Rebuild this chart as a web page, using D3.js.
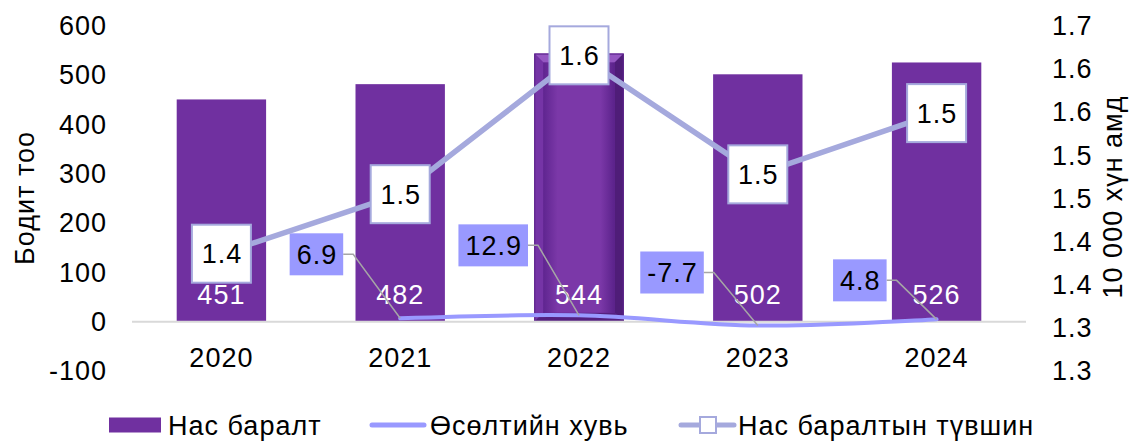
<!DOCTYPE html>
<html>
<head>
<meta charset="utf-8">
<script src="https://cdn.jsdelivr.net/npm/d3@7/dist/d3.min.js"></script>
<style>
  html, body { margin: 0; padding: 0; background: #ffffff; }
  svg { display: block; font-family: "Liberation Sans", Arial, sans-serif; }
  svg text { letter-spacing: 1px; }
</style>
</head>
<body>
<svg id="chart" width="1137" height="441"></svg>
<script>
// Years shown on the category axis
const years = ["2020", "2021", "2022", "2023", "2024"];
// Number of deaths (bars, left axis)
const deaths = [451, 482, 544, 502, 526];
// Year-on-year change, % (left axis); no value for the first year
const growth = [null, 6.9, 12.9, -7.7, 4.8];
// Death rate per 10 000 population (right axis)
const rate = [1.436, 1.505, 1.666, 1.528, 1.599];
// Axis tick values
const leftTicks = [-100, 0, 100, 200, 300, 400, 500, 600];
const rightTicks = [1.3, 1.35, 1.4, 1.45, 1.5, 1.55, 1.6, 1.65, 1.7];
// Series names and axis titles
const seriesNames = ["Нас баралт", "Өсөлтийн хувь", "Нас баралтын түвшин"];
const leftTitle = "Бодит тоо";
const rightTitle = "10 000 хүн амд";
// The year whose bar is drawn with a bevelled finish
const highlightYear = "2022";

// Layout of the growth-rate callouts: right edge / vertical centre of each box relative to its point
const growthCallout = [null, [-57, -64], [-51, -70], [-54, -53], [-50, -39]];

const FONT = 27;
const barColor = "#7030a0";
const growthColor = "#9999ff";
const rateColor = "#a5a9dd";

const svg = d3.select("#chart");

const x = d3.scaleBand().domain(years).range([132, 1026]).paddingInner(0.5).paddingOuter(0.25);
const yL = d3.scaleLinear().domain([-100, 600]).range([371, 26]);
const yR = d3.scaleLinear().domain([1.3, 1.7]).range([371, 26]);
const cx = d => x(d) + x.bandwidth() / 2;

// One decimal, truncated
const fmt1 = v => (Math.floor(v * 10 + 1e-9) / 10).toFixed(1);

// Left axis
const gL = svg.append("g").attr("transform", "translate(107,0)")
  .call(d3.axisLeft(yL).tickValues(leftTicks).tickSize(0).tickPadding(0).tickFormat(d => String(d)));
gL.select(".domain").remove();
gL.selectAll("text").attr("font-size", FONT).attr("fill", "#000").attr("font-family", "Liberation Sans, Arial, sans-serif");

// Right axis
const gR = svg.append("g").attr("transform", "translate(1052,0)")
  .call(d3.axisRight(yR).tickValues(rightTicks).tickSize(0).tickPadding(0).tickFormat(fmt1));
gR.select(".domain").remove();
gR.selectAll("text").attr("font-size", FONT).attr("fill", "#000").attr("font-family", "Liberation Sans, Arial, sans-serif");

// Category axis labels
const gX = svg.append("g").attr("transform", "translate(0,348)")
  .call(d3.axisBottom(x).tickSize(0).tickPadding(0));
gX.select(".domain").remove();
gX.selectAll("text").attr("font-size", FONT).attr("fill", "#000").attr("dy", "0.71em").attr("font-family", "Liberation Sans, Arial, sans-serif");

// Axis titles
svg.append("text").attr("transform", `translate(34,198) rotate(-90)`)
  .attr("text-anchor", "middle").attr("font-size", FONT).text(leftTitle);
svg.append("text").attr("transform", `translate(1122,197) rotate(-90)`)
  .attr("text-anchor", "middle").attr("font-size", FONT).text(rightTitle);

// Bars
const bars = svg.append("g");
years.forEach((yr, i) => {
  const x0 = x(yr), w = x.bandwidth();
  const y0 = yL(deaths[i]), y1 = yL(0);
  if (yr !== highlightYear) {
    bars.append("rect").attr("x", x0).attr("y", y0).attr("width", w).attr("height", y1 - y0).attr("fill", barColor);
  } else {
    const b = 9;
    const g = bars.append("g");
    g.append("rect").attr("x", x0).attr("y", y0).attr("width", w).attr("height", y1 - y0).attr("fill", "#6a2a99");
    const x1 = x0 + w;
    const poly = (pts, fill) => g.append("polygon").attr("points", pts.map(p => p.join(",")).join(" ")).attr("fill", fill);
    poly([[x0, y0], [x1, y0], [x1 - b, y0 + b], [x0 + b, y0 + b]], "#9557c2");
    poly([[x0, y0], [x0 + b, y0 + b], [x0 + b, y1 - b], [x0, y1]], "#7534a6");
    poly([[x1, y0], [x1, y1], [x1 - b, y1 - b], [x1 - b, y0 + b]], "#4f1d78");
    poly([[x0, y1], [x0 + b, y1 - b], [x1 - b, y1 - b], [x1, y1]], "#55207f");
    const grad = svg.append("defs").append("linearGradient").attr("id", "bevelFace");
    grad.append("stop").attr("offset", "0%").attr("stop-color", "#5f2590");
    grad.append("stop").attr("offset", "20%").attr("stop-color", "#7b38a8");
    grad.append("stop").attr("offset", "80%").attr("stop-color", "#7b38a8");
    grad.append("stop").attr("offset", "100%").attr("stop-color", "#5a228a");
    g.append("rect").attr("x", x0 + b).attr("y", y0 + b).attr("width", w - 2 * b).attr("height", y1 - y0 - 2 * b)
      .attr("fill", "url(#bevelFace)");
    g.append("rect").attr("x", x0 + 0.5).attr("y", y0 + 0.5).attr("width", w - 1).attr("height", y1 - y0 - 1)
      .attr("fill", "none").attr("stroke", "#5a2389").attr("stroke-width", 1);
  }
});

// Zero line
svg.append("line").attr("x1", 132).attr("x2", 1026).attr("y1", yL(0)).attr("y2", yL(0))
  .attr("stroke", "#d9d9d9").attr("stroke-width", 2);

// Bar value labels
svg.append("g").selectAll("text").data(years).join("text")
  .attr("x", d => cx(d)).attr("y", yL(0) - 18)
  .attr("text-anchor", "middle").attr("font-size", FONT).attr("fill", "#ffffff")
  .text((d, i) => deaths[i]);

// Growth line (smoothed)
const gPts = years.map((d, i) => ({ yr: d, v: growth[i], i })).filter(p => p.v !== null);
svg.append("path").datum(gPts)
  .attr("d", d3.line().x(p => cx(p.yr)).y(p => yL(p.v)).curve(d3.curveCatmullRom.alpha(0.5)))
  .attr("fill", "none").attr("stroke", growthColor).attr("stroke-width", 4).attr("stroke-linecap", "round");

// Growth callouts with leader lines
const callouts = svg.append("g");
gPts.forEach(p => {
  const px = cx(p.yr), py = yL(p.v);
  const [dx, dy] = growthCallout[p.i];
  const right = px + dx, midY = py + dy;
  callouts.append("polyline")
    .attr("points", `${right},${midY} ${right + 10},${midY} ${px},${py}`)
    .attr("fill", "none").attr("stroke", "#a6a6a6").attr("stroke-width", 1.5);
  const t = callouts.append("text").attr("font-size", FONT).attr("text-anchor", "end")
    .attr("x", right - 6).attr("y", midY).attr("dy", "0.36em").attr("fill", "#000").text(p.v.toFixed(1));
  const bb = t.node().getBBox();
  callouts.insert("rect", function () { return t.node(); })
    .attr("x", bb.x - 7).attr("y", midY - 21).attr("width", right - bb.x + 7).attr("height", 42)
    .attr("fill", growthColor);
});

// Death-rate line
const rPts = years.map((d, i) => ({ yr: d, v: rate[i] }));
svg.append("path").datum(rPts)
  .attr("d", d3.line().x(p => cx(p.yr)).y(p => yR(p.v)))
  .attr("fill", "none").attr("stroke", rateColor).attr("stroke-width", 5.5).attr("stroke-linejoin", "round");

// Death-rate label boxes (serve as the markers)
const rl = svg.append("g").selectAll("g").data(rPts).join("g")
  .attr("transform", p => `translate(${cx(p.yr)},${yR(p.v)})`);
rl.append("rect").attr("x", -29.5).attr("y", -29).attr("width", 59).attr("height", 58)
  .attr("fill", "#ffffff").attr("stroke", rateColor).attr("stroke-width", 2);
rl.append("text").attr("text-anchor", "middle").attr("x", 0.5).attr("dy", "0.36em").attr("font-size", FONT).attr("fill", "#000")
  .text(p => fmt1(p.v));

// Legend
const lg = svg.append("g");
const ly = 425;
lg.append("rect").attr("x", 109).attr("y", ly - 7.5).attr("width", 52).attr("height", 15).attr("fill", barColor);
lg.append("text").attr("x", 168).attr("y", ly).attr("dy", "0.36em").attr("font-size", FONT).text(seriesNames[0]);
lg.append("line").attr("x1", 372).attr("x2", 424).attr("y1", ly).attr("y2", ly)
  .attr("stroke", growthColor).attr("stroke-width", 5).attr("stroke-linecap", "round");
lg.append("text").attr("x", 430).attr("y", ly).attr("dy", "0.36em").attr("font-size", FONT).text(seriesNames[1]);
lg.append("line").attr("x1", 681).attr("x2", 734).attr("y1", ly).attr("y2", ly)
  .attr("stroke", rateColor).attr("stroke-width", 5).attr("stroke-linecap", "round");
lg.append("rect").attr("x", 700).attr("y", ly - 8).attr("width", 16).attr("height", 16)
  .attr("fill", "#fff").attr("stroke", rateColor).attr("stroke-width", 2);
lg.append("text").attr("x", 738).attr("y", ly).attr("dy", "0.36em").attr("font-size", FONT).text(seriesNames[2]);
</script>
</body>
</html>
